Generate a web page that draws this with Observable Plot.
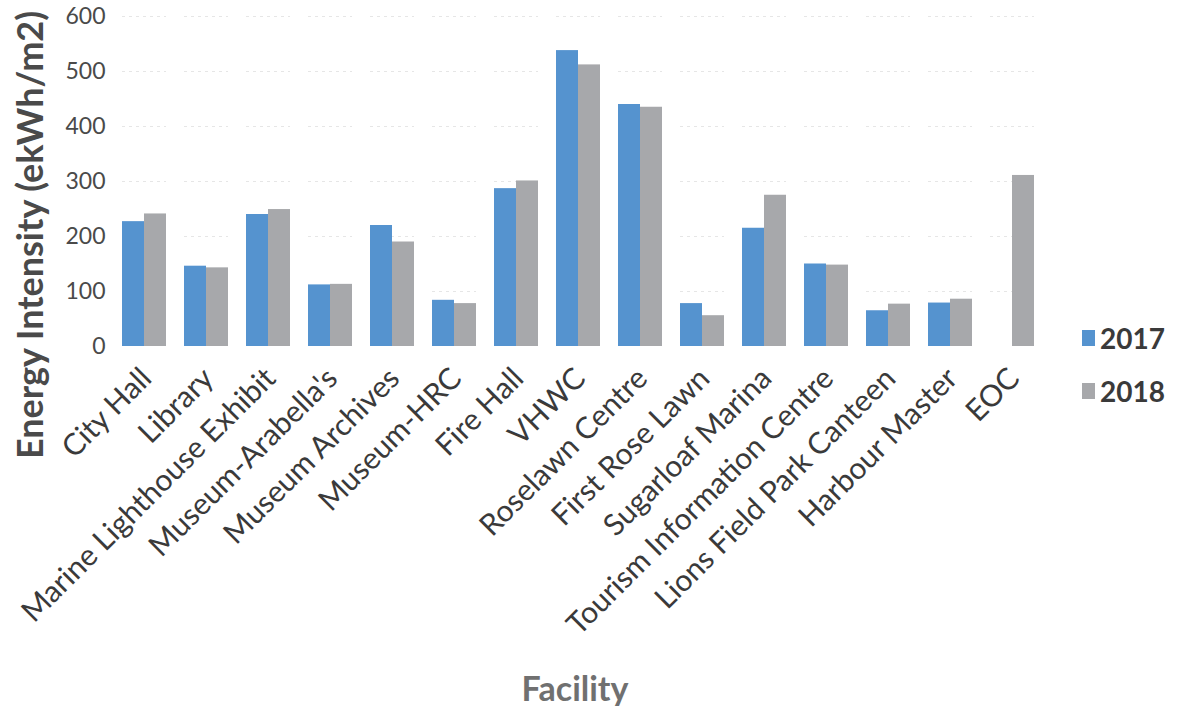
<!DOCTYPE html>
<html>
<head>
<meta charset="utf-8">
<script src="https://cdn.jsdelivr.net/npm/d3@7"></script>
<script src="https://cdn.jsdelivr.net/npm/@observablehq/plot@0.6"></script>
<style>
  html, body { margin: 0; padding: 0; background: #fff; }
  #wrap { position: relative; width: 1178px; height: 706px; font-family: Lato, "Open Sans", sans-serif; }
  #legend { position: absolute; left: 1082px; top: 321px; color: #3a3a3a; font-size: 28px; font-weight: bold; }
  #legend div { display: flex; align-items: center; height: 33px; margin-bottom: 20px; }
  #legend span.sw { display: inline-block; width: 13px; height: 16px; margin-right: 5px; }
  #ytitle { position: absolute; left: 29px; top: 235px; transform: translate(-50%, -50%) rotate(-90deg); white-space: nowrap; font-size: 36px; font-weight: bold; color: #4a4a4a; }
  #xtitle { position: absolute; left: 575px; top: 687px; transform: translate(-50%, -50%); white-space: nowrap; font-size: 34px; font-weight: bold; color: #707070; }
</style>
</head>
<body>
<div id="wrap">
  <div id="chart"></div>
  <div id="ytitle"></div>
  <div id="xtitle"></div>
  <div id="legend"></div>
</div>
<script>
const facilities = ["City Hall", "Library", "Marine Lighthouse Exhibit", "Museum-Arabella's", "Museum Archives", "Museum-HRC", "Fire Hall", "VHWC", "Roselawn Centre", "First Rose Lawn", "Sugarloaf Marina", "Tourism Information Centre", "Lions Field Park Canteen", "Harbour Master", "EOC"];
const years = ["2017", "2018"];
const values2017 = [227, 146, 240, 112, 220, 84, 287, 538, 440, 78, 215, 150, 65, 79, null];
const values2018 = [241, 143, 249, 113, 190, 78, 301, 512, 435, 56, 275, 148, 77, 86, 311];
const yTicks = [0, 100, 200, 300, 400, 500, 600];
const colors = ["#5593cf", "#a7a8ab"];
const yTitle = "Energy Intensity (ekWh/m2)";
const xTitle = "Facility";

const data = [];
facilities.forEach((f, i) => {
  if (values2017[i] != null) data.push({facility: f, year: "2017", value: values2017[i]});
  if (values2018[i] != null) data.push({facility: f, year: "2018", value: values2018[i]});
});

const chart = Plot.plot({
  width: 1178,
  height: 706,
  marginLeft: 111,
  marginRight: 133,
  marginTop: 16,
  marginBottom: 360,
  style: {fontFamily: "Lato, 'Open Sans', sans-serif", background: "#fff"},
  fx: {domain: facilities, paddingInner: 0.286, paddingOuter: 0.143, label: null},
  x: {domain: years, padding: 0, axis: null},
  y: {domain: [0, 600], label: null},
  color: {domain: years, range: colors},
  marks: [
    Plot.gridY(yTicks.filter(d => d > 0), {stroke: "#e6e6e6", strokeOpacity: 1, strokeDasharray: "3,4"}),
    Plot.barY(data, {fx: "facility", x: "year", y: "value", fill: "year"}),
    Plot.axisY({ticks: yTicks, tickSize: 0, tickPadding: 17, fontSize: 23, fill: "#4a4a4a", label: null}),
    Plot.axisFx({anchor: "bottom", tickRotate: -45, tickSize: 0, tickPadding: 27, dx: 2, fontSize: 30, fill: "#3a3a3a", label: null})
  ]
});
document.getElementById("chart").appendChild(chart);
document.getElementById("ytitle").textContent = yTitle;
document.getElementById("xtitle").textContent = xTitle;

const legend = document.getElementById("legend");
years.forEach((y, i) => {
  const row = document.createElement("div");
  const sw = document.createElement("span");
  sw.className = "sw";
  sw.style.background = colors[i];
  row.appendChild(sw);
  row.appendChild(document.createTextNode(y));
  legend.appendChild(row);
});
</script>
</body>
</html>
